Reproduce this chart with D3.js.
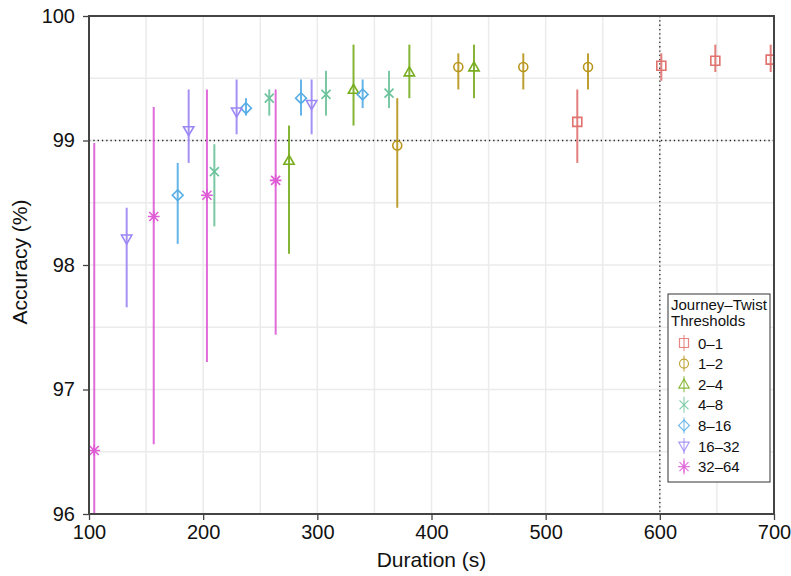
<!DOCTYPE html>
<html>
<head>
<meta charset="utf-8">
<script src="https://cdn.jsdelivr.net/npm/d3@7"></script>
<style>
  body { margin: 0; background: #fff; }
  svg { font-family: "Liberation Sans", Arial, sans-serif; }
</style>
</head>
<body>
<script>
// Data
const GROUPS = ['0\u20131', '1\u20132', '2\u20134', '4\u20138', '8\u201316', '16\u201332', '32\u201364']
const COLORS = ['#e0726e', '#b8961c', '#77ad1f', '#6cc39b', '#56ade6', '#9c86f4', '#de5bd5']
const SHAPES = ['square', 'circle', 'triUp', 'cross', 'diamond', 'triDown', 'asterisk']

const DURATION = [
  [527.7, 601.3, 648.6, 697.1],
  [370.0, 423.5, 480.4, 537.1],
  [275.2, 331.7, 380.6, 437.2],
  [209.8, 257.9, 307.6, 362.8],
  [177.7, 237.5, 285.7, 339.7],
  [133.0, 187.3, 229.3, 295.0],
  [104.6, 156.7, 203.3, 263.5]
]
const ACCURACY = [
  [99.15, 99.60, 99.64, 99.65],
  [98.96, 99.59, 99.59, 99.59],
  [98.84, 99.41, 99.55, 99.59],
  [98.75, 99.34, 99.37, 99.38],
  [98.56, 99.26, 99.34, 99.37],
  [98.21, 99.08, 99.23, 99.29],
  [96.51, 98.39, 98.56, 98.68]
]
const LOWER = [
  [98.82, 99.48, 99.55, 99.55],
  [98.46, 99.41, 99.41, 99.41],
  [98.09, 99.12, 99.34, 99.34],
  [98.31, 99.20, 99.20, 99.26],
  [98.17, 99.20, 99.20, 99.26],
  [97.66, 98.82, 99.05, 99.05],
  [94.03, 96.56, 97.22, 97.44]
]
const UPPER = [
  [99.41, 99.70, 99.77, 99.77],
  [99.34, 99.70, 99.70, 99.70],
  [99.12, 99.77, 99.77, 99.77],
  [98.97, 99.41, 99.56, 99.56],
  [98.82, 99.34, 99.49, 99.49],
  [98.46, 99.41, 99.49, 99.49],
  [98.98, 99.27, 99.41, 99.41]
]
const X_TICKS = [100, 200, 300, 400, 500, 600, 700]
const Y_TICKS = [96, 97, 98, 99, 100]
const X_REF = 600
const Y_REF = 99

// Initialization
const width = 791
const height = 576
const margin = { top: 16, right: 17, bottom: 62, left: 89 }
const innerW = width - margin.left - margin.right
const innerH = height - margin.top - margin.bottom

const svg = d3.select('body').append('svg')
  .attr('width', width)
  .attr('height', height)

const x = d3.scaleLinear().domain([100, 700]).range([margin.left, margin.left + innerW])
const y = d3.scaleLinear().domain([96, 100]).range([margin.top + innerH, margin.top])

svg.append('defs').append('clipPath')
  .attr('id', 'clip')
  .append('rect')
  .attr('x', margin.left)
  .attr('y', margin.top)
  .attr('width', innerW)
  .attr('height', innerH)

// Grid
const grid = svg.append('g')
grid.selectAll('line.gx')
  .data(d3.range(150, 700, 50))
  .enter()
  .append('line')
  .attr('x1', d => x(d)).attr('x2', d => x(d))
  .attr('y1', margin.top).attr('y2', margin.top + innerH)
  .attr('stroke', '#ebebeb').attr('stroke-width', 1.5)
grid.selectAll('line.gy')
  .data(d3.range(96.5, 100, 0.5))
  .enter()
  .append('line')
  .attr('x1', margin.left).attr('x2', margin.left + innerW)
  .attr('y1', d => y(d)).attr('y2', d => y(d))
  .attr('stroke', '#ebebeb').attr('stroke-width', 1.5)

// Reference lines
svg.append('line')
  .attr('x1', margin.left).attr('x2', margin.left + innerW)
  .attr('y1', y(Y_REF)).attr('y2', y(Y_REF))
  .attr('stroke', '#222').attr('stroke-width', 1.3).attr('stroke-dasharray', '1.3,3')
svg.append('line')
  .attr('x1', x(X_REF)).attr('x2', x(X_REF))
  .attr('y1', margin.top).attr('y2', margin.top + innerH)
  .attr('stroke', '#222').attr('stroke-width', 1.3).attr('stroke-dasharray', '1.3,3')

// Marker paths
function marker(shape, s) {
  const h = s / 2
  switch (shape) {
    case 'square': return `M${-h},${-h}H${h}V${h}H${-h}Z`
    case 'circle': return `M${h},0A${h},${h} 0 1,1 ${-h},0A${h},${h} 0 1,1 ${h},0Z`
    case 'triUp': return `M0,${-h * 1.15}L${h * 1.15},${h * 0.85}L${-h * 1.15},${h * 0.85}Z`
    case 'triDown': return `M0,${h * 1.15}L${h * 1.15},${-h * 0.85}L${-h * 1.15},${-h * 0.85}Z`
    case 'diamond': return `M0,${-h * 1.2}L${h * 1.2},0L0,${h * 1.2}L${-h * 1.2},0Z`
    case 'cross': return `M${-h},${-h}L${h},${h}M${-h},${h}L${h},${-h}`
    case 'asterisk': return `M${-h},${-h}L${h},${h}M${-h},${h}L${h},${-h}M${-h * 1.3},0H${h * 1.3}M0,${-h * 1.3}V${h * 1.3}`
  }
}

// Draw series
const plot = svg.append('g').attr('clip-path', 'url(#clip)')
GROUPS.forEach((g, i) => {
  const pts = DURATION[i].map((d, j) => ({ d, a: ACCURACY[i][j], lo: LOWER[i][j], hi: UPPER[i][j] }))
  const sg = plot.append('g')
  sg.selectAll('line')
    .data(pts)
    .enter()
    .append('line')
    .attr('x1', p => x(p.d)).attr('x2', p => x(p.d))
    .attr('y1', p => y(p.lo)).attr('y2', p => y(p.hi))
    .attr('stroke', COLORS[i]).attr('stroke-width', 2).attr('opacity', 0.9)
  sg.selectAll('path')
    .data(pts)
    .enter()
    .append('path')
    .attr('transform', p => `translate(${x(p.d)},${y(p.a)})`)
    .attr('d', marker(SHAPES[i], 9))
    .attr('fill', 'none')
    .attr('stroke', COLORS[i]).attr('stroke-width', 1.6)
})

// Frame
svg.append('rect')
  .attr('x', margin.left).attr('y', margin.top)
  .attr('width', innerW).attr('height', innerH)
  .attr('fill', 'none').attr('stroke', '#444').attr('stroke-width', 2)

// Axes
const xAxis = svg.append('g')
  .attr('transform', `translate(0,${margin.top + innerH})`)
  .call(d3.axisBottom(x).tickValues(X_TICKS).tickFormat(d3.format('d')).tickSize(6).tickPadding(5))
const yAxis = svg.append('g')
  .attr('transform', `translate(${margin.left},0)`)
  .call(d3.axisLeft(y).tickValues(Y_TICKS).tickFormat(d3.format('d')).tickSize(6).tickPadding(8))
;[xAxis, yAxis].forEach(a => {
  a.select('.domain').remove()
  a.selectAll('line').attr('stroke', '#444').attr('stroke-width', 1.3)
  a.selectAll('text').attr('font-size', 20).attr('fill', '#111')
    .attr('font-family', '"Liberation Sans", Arial, sans-serif')
})

// Axis titles
svg.append('text')
  .attr('x', margin.left + innerW / 2)
  .attr('y', 567)
  .attr('text-anchor', 'middle')
  .attr('font-size', 21)
  .attr('fill', '#111')
  .text('Duration (s)')
svg.append('text')
  .attr('transform', `translate(27,${margin.top + innerH / 2 - 3}) rotate(-90)`)
  .attr('text-anchor', 'middle')
  .attr('font-size', 21)
  .attr('fill', '#111')
  .text('Accuracy (%)')

// Legend
const legendX = 668
const legendY = 294
const legend = svg.append('g').attr('id', 'legend')
legend.append('rect')
  .attr('x', legendX).attr('y', legendY)
  .attr('width', 102).attr('height', 188)
  .attr('fill', '#fff').attr('stroke', '#333').attr('stroke-width', 1)
legend.selectAll('text.title')
  .data(['Journey\u2013Twist', 'Thresholds'])
  .enter()
  .append('text')
  .attr('x', legendX + 3)
  .attr('y', (_, i) => legendY + 15.5 + i * 16.5)
  .attr('font-size', 15)
  .attr('fill', '#111')
  .text(d => d)
const rows = legend.selectAll('g.row')
  .data(GROUPS)
  .enter()
  .append('g')
  .attr('transform', (_, i) => `translate(${legendX + 16},${legendY + 49 + i * 20.6})`)
rows.append('line')
  .attr('y1', -8).attr('y2', 8)
  .attr('stroke', (_, i) => COLORS[i]).attr('stroke-width', 1.2).attr('opacity', 0.75)
rows.append('path')
  .attr('d', (_, i) => marker(SHAPES[i], 9))
  .attr('fill', 'none')
  .attr('stroke', (_, i) => COLORS[i]).attr('stroke-width', 1.2).attr('opacity', 0.85)
rows.append('text')
  .attr('x', 14)
  .attr('y', 5.5)
  .attr('font-size', 15)
  .attr('fill', '#111')
  .text(d => d)
</script>
</body>
</html>
